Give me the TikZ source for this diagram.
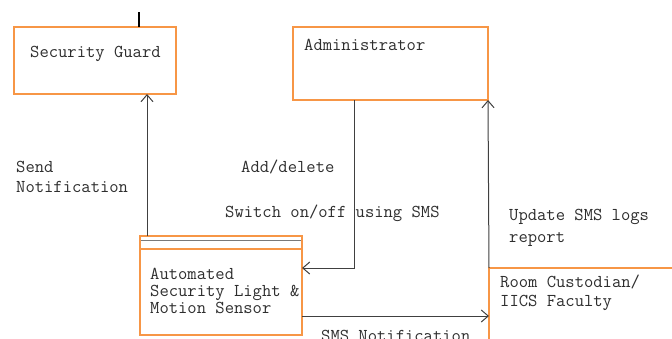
\documentclass[tikz,border=0pt]{standalone}
\usepackage{fontspec}
\usetikzlibrary{arrows.meta}
\definecolor{boxorange}{HTML}{F79646}
\definecolor{txtgray}{HTML}{2E2E2E}
\definecolor{linegray}{HTML}{404040}
\tikzset{
  box/.style={draw=boxorange, line width=2.8pt, fill=none, inner sep=0pt},
  lbl/.style={anchor=base west, inner sep=0pt, text=txtgray, font=\ttfamily\fontsize{18.1pt}{19pt}\selectfont},
  conn/.style={draw=linegray, line width=1pt},
  arr/.style={conn, -{Straight Barb[length=7pt,width=12pt]}}
}
\begin{document}
\begin{tikzpicture}[x=1pt,y=-1pt]
\clip (0,0) rectangle (672,338);
\fill[white] (0,0) rectangle (672,338);
% boxes
\draw[box] (14,27) rectangle (176,94);
\coordinate (guardS) at (147,94);
\draw[box] (293,27) rectangle (488,100);
\coordinate (adminS) at (354,100);
\coordinate (adminSE) at (488,100);
\draw[linegray!70, line width=1.4pt] (141,240.5) -- (301,240.5);
\draw[box] (140,236) rectangle (302,335);
\draw[boxorange, line width=2.8pt] (140,249) -- (302,249);
\coordinate (autoN) at (147,236);
\coordinate (autoE1) at (302,268);
\coordinate (autoE2) at (302,316);
\draw[box] (489,268) rectangle (690,360);
\coordinate (roomN) at (489,268);
\coordinate (roomW) at (489,316);
% tick
\coordinate (tickA) at (139,12);
\coordinate (tickB) at (139,27);
\draw[black, line width=1.4pt] (tickA) -- (tickB);
% texts
\node[lbl] (tguard) at (30,57) {Security Guard};
\node[lbl] (tadmin) at (304,50) {Administrator};
\node[lbl] (tauto1) at (150,279) {Automated};
\node[lbl] (tauto2) at (150,296) {Security Light \&};
\node[lbl] (tauto3) at (150,313) {Motion Sensor};
\node[lbl] (troom1) at (500,287) {Room Custodian/};
\node[lbl] (troom2) at (500,306.5) {IICS Faculty};
\node[lbl] (tsend1) at (16,172) {Send};
\node[lbl] (tsend2) at (16,192) {Notification};
\node[lbl] (tadd) at (241,172) {Add/delete};
\node[lbl] (tswitch) at (225,217) {Switch on/off using SMS};
\node[lbl] (tupd1) at (509,220) {Update SMS logs};
\node[lbl] (tupd2) at (509,242) {report};
\node[lbl] (tsms) at (321,341) {SMS Notification};
% connectors
\draw[arr] (autoN) -- (guardS);
\draw[arr] (adminS) |- (autoE1);
\draw[arr] (roomN) -- (adminSE);
\draw[arr] (autoE2) -- (roomW);
\end{tikzpicture}
\end{document}
